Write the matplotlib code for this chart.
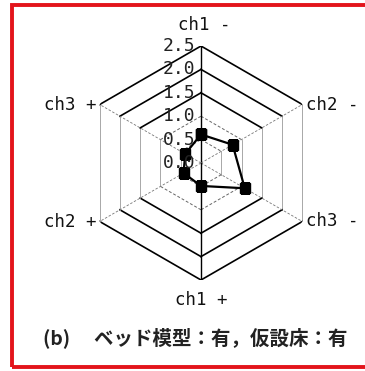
import numpy as np
import matplotlib

matplotlib.use("Agg")
import matplotlib.pyplot as plt  # noqa: E402
from matplotlib.patches import Rectangle  # noqa: E402

# data
channels = ["ch1 -", "ch2 -", "ch3 -", "ch1 +", "ch2 +", "ch3 +"]
values = [0.61, 0.78, 1.08, 0.49, 0.43, 0.39]
rings = [0.5, 1.0, 1.5, 2.0, 2.5]
tick_labels = ["0.0", "0.5", "1.0", "1.5", "2.0", "2.5"]
caption = "(b)\u3000 ベッド模型：有，仮設床：有"

plt.rcParams["font.family"] = ["DejaVu Sans Mono", "Noto Sans CJK JP"]

W, H = 365, 371
fig = plt.figure(figsize=(W / 100, H / 100), dpi=100)

# red frame (right edge falls outside the image)
fig.patches.append(Rectangle((12 / W, 4 / H), 1.2, (H - 9) / H, transform=fig.transFigure,
                             fill=False, edgecolor="#e3141b", linewidth=2.8))

cx, cy, R = 201, 163, 117
ax = fig.add_axes([(cx - R) / W, (H - cy - R) / H, 2 * R / W, 2 * R / H], projection="polar")
ax.set_theta_zero_location("N")
ax.set_theta_direction(-1)
ax.set_ylim(0, 2.5)
ax.grid(False)
ax.spines["polar"].set_visible(False)
ax.set_xticks([])
ax.set_yticks([])
ax.patch.set_alpha(0)

n = len(channels)
theta = np.arange(n) * 2 * np.pi / n

# hexagon rings: slanted sides dark, vertical sides faint
for r in rings:
    solid = r >= 1.5
    for i in range(n):
        j = (i + 1) % n
        vertical = i in (1, 4)
        if vertical:
            kw = dict(color="#9a9a9a", lw=0.6)
        elif solid:
            kw = dict(color="black", lw=1.2)
        else:
            kw = dict(color="#666666", lw=0.7, ls=(0, (3, 2)))
        ax.plot([theta[i], theta[j]], [r, r], **kw)

# spokes
for i, t in enumerate(theta):
    if i in (0, 3):
        ax.plot([t, t], [0, 2.5], color="black", lw=1.0)
    else:
        ax.plot([t, t], [0, 2.5], color="#777777", lw=0.6, ls=(0, (3, 2)))

# radial tick labels along top spoke
for k, lab in enumerate(tick_labels):
    ax.annotate(lab, (0, k * 0.5), xytext=(-4, 0), textcoords="offset points",
                ha="right", va="center", fontsize=13, color="#222222")

# channel labels
offsets = [(2, 9, "center", "bottom"), (3, 0, "left", "center"), (3, 0, "left", "center"),
           (0, -8, "center", "top"), (-2, 0, "right", "center"), (-2, 0, "right", "center")]
for t, lab, (dx, dy, ha, va) in zip(theta, channels, offsets):
    ax.annotate(lab, (t, 2.5), xytext=(dx, dy), textcoords="offset points",
                ha=ha, va=va, fontsize=12.5, color="#111111")

# data polygon
tt = np.append(theta, theta[0])
vv = np.append(values, values[0])
ax.plot(tt, vv, color="black", lw=1.6, marker="s", markersize=6.5)

fig.text(195 / W, (H - 338) / H, caption, ha="center", va="center", fontsize=14,
         family=["Noto Sans CJK JP"], fontweight="bold", color="#222222")

fig.savefig("out.png", dpi=100)
